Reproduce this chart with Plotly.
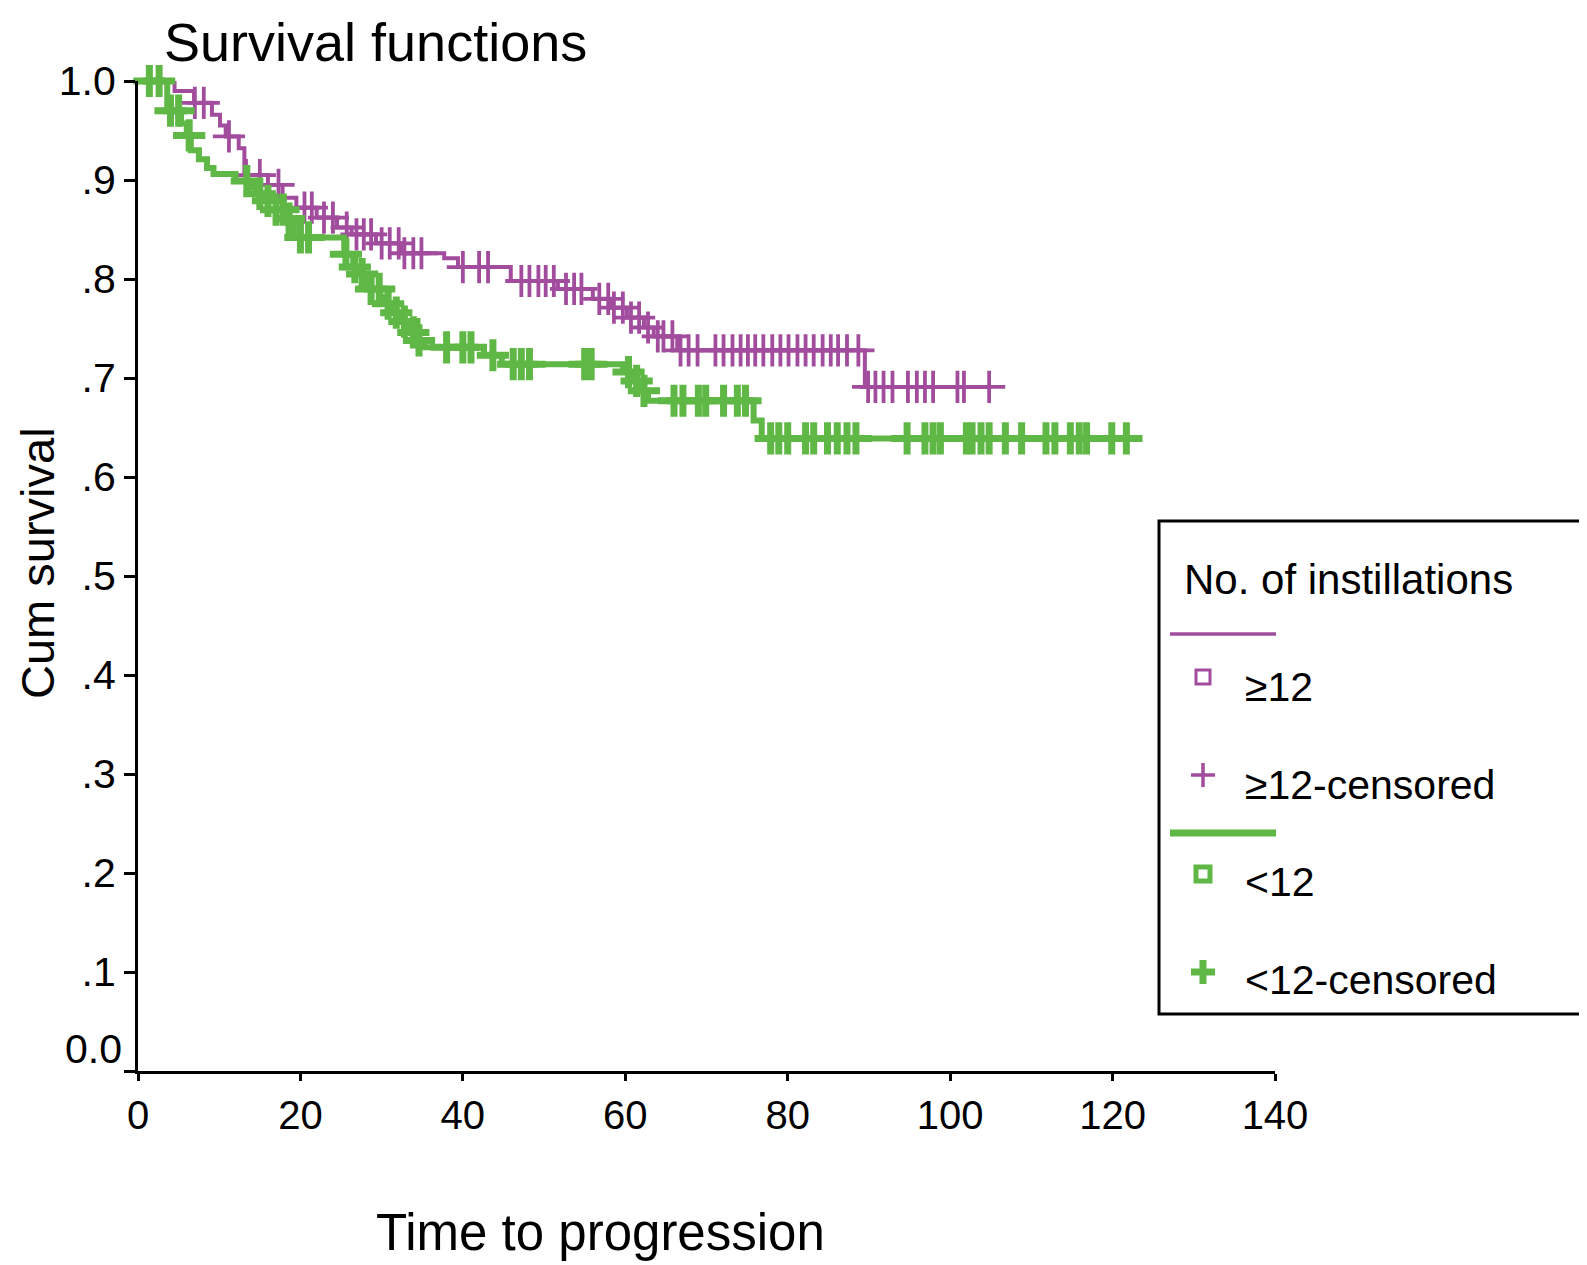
import plotly.graph_objects as go

# ---------------- data ----------------
# group ">=12" : times where the survival curve steps down, and the new value
ge12_step_times = [4.5, 6.9, 9.1, 10.1, 10.8, 12.4, 13.1, 16.0, 17.8, 19.5, 22.0, 24.5,
                   26.3, 29.3, 32.4, 37.7, 39.4, 45.9, 51.7, 56.0, 58.3, 60.2, 62.3,
                   63.5, 66.4, 89.5]
ge12_step_surv = [0.990, 0.978, 0.966, 0.955, 0.944, 0.932, 0.905, 0.895, 0.882, 0.872,
                  0.862, 0.852, 0.845, 0.836, 0.826, 0.821, 0.812, 0.798, 0.790, 0.780,
                  0.771, 0.761, 0.751, 0.742, 0.728, 0.691]
ge12_censor_times = [7.0, 8.1, 11.2, 13.3, 15.0, 17.3, 20.5, 21.4, 22.9, 24.0, 25.7, 26.9,
                     27.8, 28.7, 30.0, 31.0, 32.1, 32.8, 33.9, 34.9, 40.0, 42.0, 43.1,
                     47.2, 48.2, 49.3, 50.2, 51.2, 52.7, 53.7, 54.6, 56.8, 57.9, 58.6,
                     59.7, 60.7, 61.7, 62.8, 64.0, 64.7, 65.8, 66.8, 67.8, 68.9, 71.1,
                     72.1, 73.2, 74.2, 75.1, 76.0, 77.0, 78.1, 79.1, 80.1, 81.2, 82.2,
                     83.2, 84.3, 85.3, 86.2, 87.3, 88.7, 89.9, 90.8, 91.8, 92.9, 94.8,
                     95.9, 96.9, 97.9, 100.9, 101.7, 104.8]
ge12_last_time = 104.8

# group "<12"
lt12_step_times = [3.6, 5.3, 6.0, 6.5, 7.5, 8.5, 9.3, 12.0, 13.5, 14.5, 15.8, 17.0, 18.3,
                   19.2, 25.4, 26.5, 27.3, 28.2, 29.8, 30.5, 31.5, 32.5, 33.5, 34.5, 35.2,
                   42.6, 44.8, 59.7, 60.9, 61.9, 62.8, 75.8, 76.8]
lt12_step_surv = [0.970, 0.957, 0.945, 0.930, 0.921, 0.912, 0.906, 0.899, 0.893, 0.886,
                  0.879, 0.870, 0.861, 0.842, 0.825, 0.812, 0.805, 0.790, 0.782, 0.775,
                  0.766, 0.757, 0.746, 0.738, 0.731, 0.723, 0.714, 0.706, 0.697, 0.687,
                  0.677, 0.657, 0.639]
lt12_censor_times = [1.4, 2.6, 4.0, 5.0, 6.3, 13.4, 15.0, 16.0, 17.0, 17.9, 18.6, 20.0,
                     21.0, 25.6, 26.7, 27.6, 28.7, 29.7, 30.8, 31.8, 32.8, 33.9, 34.6,
                     38.0, 40.0, 41.0, 43.7, 46.2, 47.2, 48.2, 55.0, 55.8, 60.4, 61.4,
                     62.3, 66.0, 67.1, 69.0, 69.9, 72.1, 73.8, 74.8, 77.9, 78.9, 80.0,
                     82.2, 83.2, 84.9, 86.1, 87.3, 88.4, 94.7, 96.9, 97.9, 98.8, 102.0,
                     102.7, 103.8, 104.8, 106.8, 108.8, 111.8, 112.9, 114.8, 115.9,
                     116.8, 119.9, 121.7]
lt12_last_time = 121.7

x_tick_vals = [0, 20, 40, 60, 80, 100, 120, 140]
y_tick_vals = [0.0, 0.1, 0.2, 0.3, 0.4, 0.5, 0.6, 0.7, 0.8, 0.9, 1.0]
y_tick_text = ["", ".1", ".2", ".3", ".4", ".5", ".6", ".7", ".8", ".9", "1.0"]

title_text = "Survival functions"
x_title = "Time to progression"
y_title = "Cum survival"
legend_title = "No. of instillations"
legend_labels = ["\u226512", "\u226512-censored", "<12", "<12-censored"]

PURPLE = "#a24c9e"
GREEN = "#5fb846"
FONT = "Liberation Sans, Arial, Helvetica, sans-serif"


def step_xy(times, surv, last):
    xs = [0.0] + list(times) + [last]
    ys = [1.0] + list(surv) + [surv[-1]]
    return xs, ys


def surv_at(t, times, surv):
    v = 1.0
    for ti, si in zip(times, surv):
        if ti <= t:
            v = si
    return v


fig = go.Figure()

for times, surv, cens, last, col, lw, mlw in [
    (ge12_step_times, ge12_step_surv, ge12_censor_times, ge12_last_time, PURPLE, 4, 3.8),
    (lt12_step_times, lt12_step_surv, lt12_censor_times, lt12_last_time, GREEN, 6, 7),
]:
    xs, ys = step_xy(times, surv, last)
    fig.add_trace(go.Scatter(x=xs, y=ys, mode="lines", line=dict(color=col, width=lw, shape="hv"),
                             showlegend=False, hoverinfo="skip", cliponaxis=False))
    cy = [surv_at(t, times, surv) for t in cens]
    fig.add_trace(go.Scatter(x=cens, y=cy, mode="markers",
                             marker=dict(symbol="cross-thin", size=23, color=col,
                                         line=dict(color=col, width=mlw)),
                             showlegend=False, hoverinfo="skip", cliponaxis=False))

# ---------------- layout ----------------
W, H = 1587, 1265
L, R, T, B = 130, 320, 73, 202
PW, PH = W - L - R, H - T - B


def px(x):
    return (x - L) / PW


def py(y):
    return (H - B - y) / PH


shapes = []
annotations = []

# title / axis titles
annotations.append(dict(text=title_text, x=px(154), y=py(34), xref="paper", yref="paper",
                        xanchor="left", yanchor="middle", showarrow=False,
                        font=dict(size=54, color="black", family=FONT)))
annotations.append(dict(text=x_title, x=px(592), y=py(1224), xref="paper", yref="paper",
                        xanchor="center", yanchor="middle", showarrow=False,
                        font=dict(size=51, color="black", family=FONT)))
annotations.append(dict(text=y_title, x=px(29), y=py(555), xref="paper", yref="paper",
                        xanchor="center", yanchor="middle", showarrow=False, textangle=-90,
                        font=dict(size=47, color="black", family=FONT)))
# raised "0.0" label as in the original
annotations.append(dict(text="0.0", x=px(116), y=py(1041), xref="paper", yref="paper",
                        xanchor="right", yanchor="middle", showarrow=False,
                        font=dict(size=41, color="black", family=FONT)))

# legend box
shapes.append(dict(type="rect", xref="paper", yref="paper", x0=px(1151), x1=px(1585),
                   y0=py(513), y1=py(1006), line=dict(color="black", width=3),
                   fillcolor="white", layer="above"))
annotations.append(dict(text=legend_title, x=px(1174), y=py(571), xref="paper", yref="paper",
                        xanchor="left", yanchor="middle", showarrow=False,
                        font=dict(size=42, color="black", family=FONT)))
# legend rows
for (col, lw, sq_w, plus_w, y_line, y_sq, y_plus, lab_a_y, lab_b_y, lab_a, lab_b) in [
    (PURPLE, 3.5, 3, 3.5, 626, 669, 767, 679, 777, legend_labels[0], legend_labels[1]),
    (GREEN, 7, 5, 7, 825, 866, 964, 874, 972, legend_labels[2], legend_labels[3]),
]:
    shapes.append(dict(type="line", xref="paper", yref="paper", x0=px(1162), x1=px(1268),
                       y0=py(y_line), y1=py(y_line), line=dict(color=col, width=lw)))
    shapes.append(dict(type="rect", xref="paper", yref="paper", x0=px(1188), x1=px(1202),
                       y0=py(y_sq - 7), y1=py(y_sq + 7), line=dict(color=col, width=sq_w)))
    shapes.append(dict(type="line", xref="paper", yref="paper", x0=px(1183), x1=px(1207),
                       y0=py(y_plus), y1=py(y_plus), line=dict(color=col, width=plus_w)))
    shapes.append(dict(type="line", xref="paper", yref="paper", x0=px(1195), x1=px(1195),
                       y0=py(y_plus - 12), y1=py(y_plus + 12), line=dict(color=col, width=plus_w)))
    annotations.append(dict(text=lab_a, x=px(1235), y=py(lab_a_y), xref="paper", yref="paper",
                            xanchor="left", yanchor="middle", showarrow=False,
                            font=dict(size=41, color="black", family=FONT)))
    annotations.append(dict(text=lab_b, x=px(1235), y=py(lab_b_y), xref="paper", yref="paper",
                            xanchor="left", yanchor="middle", showarrow=False,
                            font=dict(size=41, color="black", family=FONT)))

fig.update_layout(
    width=W, height=H,
    margin=dict(l=L, r=R, t=T, b=B, pad=0),
    paper_bgcolor="white", plot_bgcolor="white",
    showlegend=False,
    font=dict(family=FONT, color="black", size=40),
    shapes=shapes, annotations=annotations,
    xaxis=dict(range=[0, 140], tickvals=x_tick_vals, showgrid=False, zeroline=False,
               showline=True, linecolor="black", linewidth=3, ticks="outside",
               ticklen=7, tickwidth=3, tickcolor="black", ticklabelstandoff=0,
               tickfont=dict(size=40, family=FONT, color="black"), fixedrange=True),
    yaxis=dict(range=[0, 1], tickvals=y_tick_vals, ticktext=y_tick_text, showgrid=False,
               zeroline=False, showline=True, linecolor="black", linewidth=3,
               ticks="outside", ticklen=11, tickwidth=3, tickcolor="black",
               ticklabelstandoff=0, tickfont=dict(size=41, family=FONT, color="black"),
               fixedrange=True),
)

fig.write_html("out.html")
